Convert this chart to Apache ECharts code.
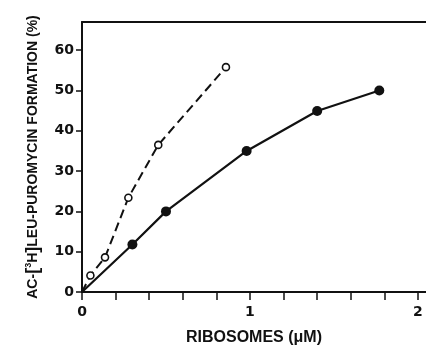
<!DOCTYPE html>
<html><head><meta charset="utf-8">
<script src="https://cdn.jsdelivr.net/npm/echarts@6/dist/echarts.min.js"></script>
<style>html,body{margin:0;padding:0;background:#fff}#c{width:426px;height:351px}</style>
</head><body><div id="c"></div>
<script>
var openX = [0, 0.05, 0.137, 0.276, 0.454, 0.857];
var openY = [0, 4.1, 8.6, 23.4, 36.5, 55.8];
var filledX = [0, 0.30, 0.50, 0.98, 1.40, 1.77];
var filledY = [0, 11.8, 20.0, 35.0, 44.9, 50.0];
var yTicks = [0, 10, 20, 30, 40, 50, 60];
var xTicks = [0, 0.2, 0.4, 0.6, 0.8, 1.0, 1.2, 1.4, 1.6, 1.8, 2.0];
var xLabels = [0, 1, 2];

function pairs(xs, ys) { return xs.map(function (x, i) { return [x, ys[i]]; }); }
var openData = pairs(openX, openY).map(function (p, i) { return i === 0 ? {value: p, symbolSize: 0} : p; });
var filledData = pairs(filledX, filledY).map(function (p, i) { return i === 0 ? {value: p, symbolSize: 0} : p; });

var chart = echarts.init(document.getElementById('c'));
var lab = {fontFamily: 'DejaVu Sans', fontWeight: 'bold', fontSize: 14, color: '#111'};
chart.setOption({
  animation: false,
  grid: {left: 82, top: 22, right: 0, bottom: 56},
  xAxis: [{
    type: 'value', min: 0, max: 2.048, position: 'bottom',
    axisLine: {lineStyle: {color: '#111', width: 2}},
    axisTick: {show: true, length: 8, lineStyle: {color: '#111', width: 1.5}, customValues: xTicks},
    axisLabel: Object.assign({margin: 13, customValues: xLabels, formatter: function (v) { return String(Math.round(v)); }}, lab),
    splitLine: {show: false},
    name: 'RIBOSOMES (μM)', nameLocation: 'middle', nameGap: 38,
    nameTextStyle: {fontFamily: 'Liberation Sans', fontWeight: 'bold', fontSize: 16, color: '#111'}
  }, {
    type: 'value', min: 0, max: 2.048, position: 'top',
    axisLine: {show: true, lineStyle: {color: '#111', width: 2}},
    axisTick: {show: false}, axisLabel: {show: false}, splitLine: {show: false}
  }],
  yAxis: {
    type: 'value', min: 0, max: 67,
    axisLine: {show: true, lineStyle: {color: '#111', width: 2}},
    axisTick: {show: true, length: 6, lineStyle: {color: '#111', width: 1.5}, customValues: yTicks},
    axisLabel: Object.assign({margin: 8, customValues: yTicks}, lab),
    splitLine: {show: false},
    name: 'AC-{b|[}{s|3}H{b|]}LEU-PUROMYCIN FORMATION (%)', nameLocation: 'middle', nameGap: 40,
    nameTextStyle: {fontFamily: 'Liberation Sans', fontWeight: 'bold', fontSize: 14, color: '#111',
      rich: {
        b: {fontFamily: 'Liberation Sans', fontWeight: 'bold', fontSize: 18, color: '#111'},
        s: {fontFamily: 'Liberation Sans', fontWeight: 'bold', fontSize: 9, color: '#111', verticalAlign: 'top', padding: [0, 0, 6, 0]}
      }}
  },
  series: [{
    type: 'line', data: openData, symbol: 'circle', symbolSize: 7,
    lineStyle: {color: '#111', width: 2, type: [9, 5]},
    itemStyle: {color: '#fff', borderColor: '#111', borderWidth: 1.6},
    z: 3
  }, {
    type: 'line', data: filledData, symbol: 'circle', symbolSize: 10,
    lineStyle: {color: '#111', width: 2.2},
    itemStyle: {color: '#111', borderColor: '#111', borderWidth: 0},
    z: 2
  }]
});
</script></body></html>
